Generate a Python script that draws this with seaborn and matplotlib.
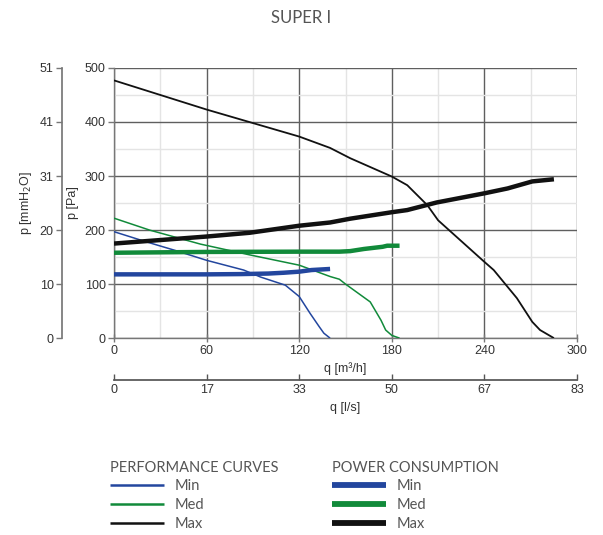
"""
Fan performance chart for SUPER I: pressure vs airflow plus power consumption.

Run:
  python plot.py
"""

import matplotlib

matplotlib.use("Agg")

import matplotlib.pyplot as plt
import seaborn as sns
from matplotlib.lines import Line2D
from matplotlib.ticker import MultipleLocator


# performance curves, q [m3/h] vs p [Pa]
perf_min_q = [0, 20, 40, 60, 84, 95, 111, 120, 127, 133, 136, 140]
perf_min_p = [197, 179, 162, 144, 126, 113, 98, 77, 46, 21, 9, 0]

perf_med_q = [0, 23, 56, 88, 120, 140, 146, 150, 166, 173, 176, 180, 185]
perf_med_p = [222, 200, 174, 154, 135, 114, 109, 100, 67, 33, 15, 5, 0]

perf_max_q = [0, 60, 120, 140, 153, 180, 190, 203, 210, 240, 246, 261, 271, 276, 285]
perf_max_p = [477, 423, 373, 352, 333, 299, 283, 246, 218, 141, 126, 74, 30, 15, 0]

# power consumption curves (drawn on the same scale)
pow_min_q = [0, 60, 82, 100, 110, 120, 128, 140]
pow_min_p = [118, 118, 118.5, 119.5, 121, 123, 126, 128]

pow_med_q = [0, 60, 120, 146, 153, 162, 174, 177, 185]
pow_med_p = [158, 159.5, 160, 160, 161, 165, 169, 171, 171]

pow_max_q = [0, 60, 88, 120, 140, 153, 180, 190, 209, 240, 255, 271, 285]
pow_max_p = [175, 188, 195, 208, 214, 221, 233, 237, 251, 268, 277, 290, 294]

# axis ticks
pa_ticks = [0, 100, 200, 300, 400, 500]
mmh2o_labels = ["0", "10", "20", "31", "41", "51"]
q_ticks = [0, 60, 120, 180, 240, 300]
ls_labels = ["0", "17", "33", "50", "67", "83"]

BLUE = "#23469e"
GREEN = "#118a3a"
BLACK = "#111111"
TEXT = "#333333"
LEGEND_TEXT = "#555555"


def main():
    sns.set_theme(style="white")
    plt.rcParams["font.family"] = ["Liberation Sans", "DejaVu Sans"]

    fig = plt.figure(figsize=(6.03, 5.35), dpi=100)
    ax = fig.add_axes([0.189, 0.368, 0.768, 0.505])

    curves = [
        (perf_min_q, perf_min_p, BLUE, 1.1),
        (perf_med_q, perf_med_p, GREEN, 1.1),
        (perf_max_q, perf_max_p, BLACK, 1.3),
        (pow_min_q, pow_min_p, BLUE, 3.2),
        (pow_med_q, pow_med_p, GREEN, 3.2),
        (pow_max_q, pow_max_p, BLACK, 3.2),
    ]
    for q, p, color, lw in curves:
        sns.lineplot(x=q, y=p, color=color, linewidth=lw, ax=ax,
                     sort=False, estimator=None, legend=False, zorder=3,
                     solid_capstyle="butt")

    ax.set_xlim(0, 300)
    ax.set_ylim(0, 500)
    ax.set_xticks(q_ticks)
    ax.set_yticks(pa_ticks)
    ax.xaxis.set_minor_locator(MultipleLocator(30))
    ax.yaxis.set_minor_locator(MultipleLocator(50))
    ax.grid(which="major", color="#5f5f5f", linewidth=1.0, zorder=1)
    ax.grid(which="minor", color="#e4e4e4", linewidth=1.0, zorder=0)
    for side in ["top", "right"]:
        ax.spines[side].set_visible(False)
    for side in ["left", "bottom"]:
        ax.spines[side].set_color("#777777")
        ax.spines[side].set_linewidth(1.0)
    ax.tick_params(which="major", length=4, width=1, color="#777777",
                   labelsize=9, labelcolor=TEXT, pad=2)
    ax.tick_params(which="minor", length=0)
    ax.tick_params(axis="x", direction="inout", length=6)
    ax.set_xlabel("q [m³/h]", fontsize=9, color=TEXT, labelpad=4)
    ax.set_ylabel("p [Pa]", fontsize=9, color=TEXT, labelpad=4)

    # left axis in mmH2O
    ax_mm = ax.twinx()
    ax_mm.set_ylim(0, 500)
    ax_mm.set_yticks(pa_ticks)
    ax_mm.set_yticklabels(mmh2o_labels)
    ax_mm.yaxis.set_ticks_position("left")
    ax_mm.yaxis.set_label_position("left")
    for side in ["top", "right", "bottom"]:
        ax_mm.spines[side].set_visible(False)
    ax_mm.spines["left"].set_position(("axes", -0.112))
    ax_mm.spines["left"].set_color("#777777")
    ax_mm.tick_params(length=4, width=1, color="#777777", labelsize=9,
                      labelcolor=TEXT, pad=2)
    ax_mm.set_ylabel("p [mmH$_2$O]", fontsize=9, color=TEXT, labelpad=4)
    ax_mm.grid(False)

    # second x axis in l/s
    ax_ls = ax.twiny()
    ax_ls.set_xlim(0, 300)
    ax_ls.set_xticks(q_ticks)
    ax_ls.set_xticklabels(ls_labels)
    ax_ls.xaxis.set_ticks_position("bottom")
    ax_ls.xaxis.set_label_position("bottom")
    for side in ["top", "right", "left"]:
        ax_ls.spines[side].set_visible(False)
    ax_ls.spines["bottom"].set_position(("axes", -0.156))
    ax_ls.spines["bottom"].set_color("#555555")
    ax_ls.tick_params(direction="in", length=4, width=1, color="#555555",
                      labelsize=9, labelcolor=TEXT, pad=3)
    ax_ls.set_xlabel("q [l/s]", fontsize=9, color=TEXT, labelpad=4)
    ax_ls.grid(False)

    fig.text(0.5, 0.966, "SUPER I", ha="center", va="center",
             fontsize=12, color=LEGEND_TEXT, family=["Lato", "DejaVu Sans"])

    # legends
    perf_handles = [
        Line2D([], [], color=BLUE, linewidth=1.8, solid_capstyle="butt"),
        Line2D([], [], color=GREEN, linewidth=1.8, solid_capstyle="butt"),
        Line2D([], [], color=BLACK, linewidth=1.8, solid_capstyle="butt"),
    ]
    pow_handles = [
        Line2D([], [], color=BLUE, linewidth=4.2, solid_capstyle="butt"),
        Line2D([], [], color=GREEN, linewidth=4.2, solid_capstyle="butt"),
        Line2D([], [], color=BLACK, linewidth=4.2, solid_capstyle="butt"),
    ]
    names = ["Min", "Med", "Max"]
    legend_kw = dict(
        loc="upper left", frameon=False, title_fontsize=10.5,
        handlelength=3.7, handletextpad=0.7, labelspacing=0.32,
        borderpad=0, borderaxespad=0, alignment="left",
        prop={"family": ["Lato", "DejaVu Sans"], "size": 10.5},
        labelcolor=LEGEND_TEXT,
    )
    for handles, title, x0 in [
        (perf_handles, "PERFORMANCE CURVES", 0.183),
        (pow_handles, "POWER CONSUMPTION", 0.551),
    ]:
        leg = fig.legend(handles, names, title=title,
                         bbox_to_anchor=(x0, 0.139), **legend_kw)
        leg.get_title().set_color(LEGEND_TEXT)
        leg.get_title().set_family(["Lato", "DejaVu Sans"])

    fig.savefig("out.png", dpi=100)
    plt.close(fig)


if __name__ == "__main__":
    main()
